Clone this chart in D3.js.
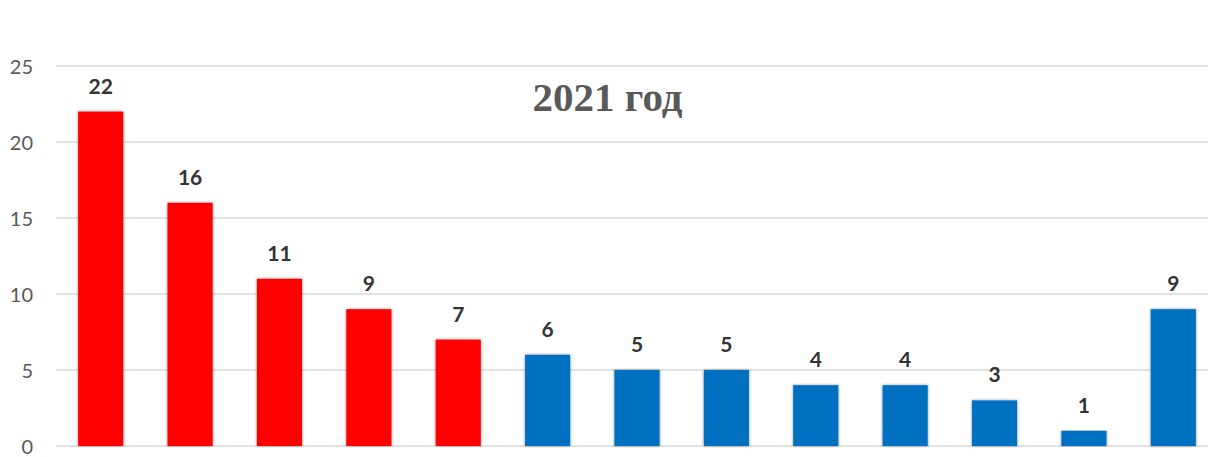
<!DOCTYPE html>
<html><head><meta charset="utf-8">
<script src="https://cdn.jsdelivr.net/npm/d3@7"></script>
<style>body{margin:0;background:#fff;}svg{display:block;}</style>
</head><body>
<script>
const categories = ["1","2","3","4","5","6","7","8","9","10","11","12","13"];
const values = [22,16,11,9,7,6,5,5,4,4,3,1,9];
const barColors = ["#FF0000","#FF0000","#FF0000","#FF0000","#FF0000","#0070C0","#0070C0","#0070C0","#0070C0","#0070C0","#0070C0","#0070C0","#0070C0"];
const yTicks = [0,5,10,15,20,25];
const title = "2021 год";

const W = 1208, H = 457;
const svg = d3.select("body").append("svg").attr("width", W).attr("height", H);
const defs = svg.append("defs");
const f = defs.append("filter").attr("id","sh").attr("x","-20%").attr("y","-5%").attr("width","140%").attr("height","110%");
f.append("feDropShadow").attr("dx",0).attr("dy",0).attr("stdDeviation",1.6).attr("flood-color","#000").attr("flood-opacity",0.45);

const x = d3.scaleBand().domain(categories).range([56, 1218]).paddingInner(0.495).paddingOuter(0.2475);
const y = d3.scaleLinear().domain([0,25]).range([446,66]);

const grid = svg.append("g");
grid.selectAll("line").data(yTicks).join("line")
  .attr("x1",56).attr("x2",1208)
  .attr("y1",d=>y(d)).attr("y2",d=>y(d))
  .attr("stroke","#D9D9D9").attr("stroke-width",1.5);

const yAxis = svg.append("g").attr("transform","translate(33,0)")
  .call(d3.axisLeft(y).tickValues(yTicks).tickSize(0).tickPadding(0));
yAxis.select(".domain").remove();
yAxis.selectAll("text").attr("font-family","Lato, 'Open Sans', sans-serif").attr("font-size",20).attr("fill","#595959").attr("dy","0.35em");

svg.append("g").selectAll("rect").data(values).join("rect")
  .attr("x",(d,i)=>x(categories[i]))
  .attr("width",x.bandwidth())
  .attr("y",d=>y(d))
  .attr("height",d=>y(0)-y(d))
  .attr("fill",(d,i)=>barColors[i])
  .attr("filter","url(#sh)");

svg.append("g").selectAll("text").data(values).join("text")
  .attr("x",(d,i)=>x(categories[i])+x.bandwidth()/2)
  .attr("y",d=>y(d)-18)
  .attr("text-anchor","middle")
  .attr("font-family","Lato, 'Open Sans', sans-serif")
  .attr("font-weight","bold").attr("font-size",21).attr("fill","#333333")
  .text(d=>d);

svg.append("text").attr("x",607.5).attr("y",111).attr("text-anchor","middle")
  .attr("font-family","'Liberation Serif', 'Times New Roman', serif")
  .attr("font-weight","bold").attr("font-size",41).attr("fill","#595959")
  .text(title);
</script>
</body></html>
